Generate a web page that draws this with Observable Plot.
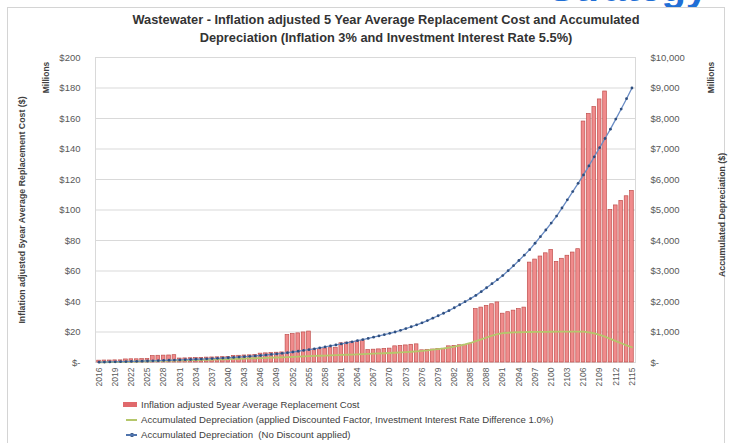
<!DOCTYPE html>
<html>
<head>
<meta charset="utf-8">
<script src="https://cdn.jsdelivr.net/npm/d3@7"></script>
<script src="https://cdn.jsdelivr.net/npm/@observablehq/plot@0.6"></script>
<style>
  html, body { margin: 0; padding: 0; background: #fff; }
  body { width: 729px; height: 443px; overflow: hidden; position: relative; font-family: "Liberation Sans", Arial, sans-serif; }
  #banner { position: absolute; left: 548px; top: -35px; font-size: 40px; font-weight: bold; color: #1f6fd6; white-space: nowrap; }
  #frame { position: absolute; left: 7px; top: 7px; width: 718px; height: 450px; border: 1px solid #d4d4d4; box-sizing: border-box; background: #fff; }
  #title { position: absolute; left: 36px; width: 700px; top: 11px; text-align: center; font-size: 12.8px; font-weight: bold; line-height: 18px; color: #333; }
  #chart { position: absolute; left: 0; top: 50px; }
  #legend { position: absolute; left: 123px; top: 397px; font-size: 9.6px; color: #404040; line-height: 15px; }
  .item { display: flex; align-items: center; white-space: nowrap; }
  .sw { display: inline-block; width: 15px; margin-right: 3px; position: relative; height: 9px; }
  .sw.bar::after { content: ""; position: absolute; left: 0; top: 2px; width: 14px; height: 5px; background: #e0696c; }
  .sw.ln::after { content: ""; position: absolute; left: 3px; top: 4px; width: 11px; height: 1.5px; }
  .sw.green::after { background: #b5c76b; }
  .sw.blue::after { background: #4f74ad; }
  .sw.blue::before { content: ""; position: absolute; left: 7px; top: 3px; width: 3.5px; height: 3.5px; border-radius: 50%; background: #2f4f7f; }
</style>
</head>
<body>
<div id="banner">Strategy</div>
<div id="frame"></div>
<div id="title">Wastewater - Inflation adjusted 5 Year Average Replacement Cost and Accumulated<br>Depreciation (Inflation 3% and Investment Interest Rate 5.5%)</div>
<div id="chart"></div>
<div id="legend">
  <div class="item"><span class="sw bar"></span>Inflation adjusted 5year Average Replacement Cost</div>
  <div class="item"><span class="sw ln green"></span>Accumulated Depreciation (applied Discounted Factor, Investment Interest Rate Difference 1.0%)</div>
  <div class="item"><span class="sw ln blue"></span>Accumulated Depreciation&nbsp; (No Discount applied)</div>
</div>
<script>
// Years 2016..2115
const years = d3.range(2016, 2116);

// Inflation adjusted 5-year average replacement cost ($ millions, left axis)
const replacementCost = [
  1.2, 1.3, 1.3, 1.4, 1.4,
  2.0, 2.1, 2.1, 2.2, 2.3,
  4.2, 4.4, 4.5, 4.6, 4.8,
  2.6, 2.7, 2.8, 2.9, 3.0,
  3.2, 3.3, 3.4, 3.5, 3.6,
  4.3, 4.4, 4.6, 4.7, 4.9,
  5.8, 6.0, 6.2, 6.4, 6.6,
  18.0, 18.6, 19.1, 19.7, 20.3,
  8.6, 8.9, 9.2, 9.4, 9.7,
  12.6, 13.0, 13.4, 13.8, 14.2,
  8.1, 8.4, 8.6, 8.9, 9.1,
  10.6, 10.9, 11.2, 11.6, 11.9,
  8.0, 8.3, 8.5, 8.8, 9.0,
  10.6, 10.9, 11.3, 11.6, 12.0,
  35.0, 36.0, 37.1, 38.2, 39.4,
  32.0, 33.0, 34.0, 35.0, 36.0,
  65.5, 67.5, 69.5, 71.6, 73.8,
  66.0, 68.0, 70.0, 72.1, 74.3,
  158.0, 163.0, 167.5, 172.5, 177.7,
  100.0, 103.0, 106.0, 109.0, 112.5
];

// Accumulated depreciation, discounted ($ millions, right axis)
const depDiscounted = [
  5, 9, 13, 17, 21,
  25, 29, 33, 37, 41,
  46, 51, 56, 61, 66,
  70, 74, 78, 82, 86,
  90, 95, 100, 105, 110,
  116, 122, 128, 134, 140,
  146, 152, 158, 164, 170,
  178, 186, 194, 202, 210,
  216, 222, 228, 234, 240,
  247, 254, 261, 268, 275,
  283, 290, 297, 304, 311,
  320, 330, 340, 352, 365,
  380, 400, 420, 440, 462,
  490, 520, 555, 595, 640,
  700, 760, 820, 880, 930,
  960, 975, 985, 992, 997,
  1000, 1003, 1005, 1007, 1008,
  1010, 1012, 1013, 1014, 1014,
  1010, 990, 955, 905, 845,
  775, 700, 630, 560, 500
];

// Accumulated depreciation, no discount ($ millions, right axis)
const depNoDiscount = [
  10, 14, 18, 22, 26,
  30, 35, 40, 45, 50,
  55, 61, 67, 73, 79,
  85, 92, 99, 106, 113,
  120, 128, 137, 146, 155,
  165, 177, 190, 203, 216,
  230, 246, 264, 282, 300,
  320, 344, 369, 395, 422,
  450, 480, 511, 543, 576,
  610, 644, 679, 715, 752,
  790, 830, 870, 912, 955,
  1000, 1055, 1112, 1172, 1235,
  1300, 1375, 1452, 1532, 1615,
  1700, 1795, 1893, 1993, 2095,
  2200, 2323, 2451, 2583, 2715,
  2850, 3010, 3175, 3345, 3520,
  3700, 3910, 4125, 4345, 4570,
  4800, 5065, 5335, 5605, 5875,
  6150, 6445, 6745, 7045, 7345,
  7650, 7980, 8310, 8650, 9000
];

const leftTicks = [0, 20, 40, 60, 80, 100, 120, 140, 160, 180, 200];
const rightTicks = [0, 1000, 2000, 3000, 4000, 5000, 6000, 7000, 8000, 9000, 10000];
const xTickYears = years.filter((d, i) => i % 3 === 0);

const leftMax = 200, rightMax = 10000;
const ratio = rightMax / leftMax;

const data = years.map((year, i) => ({
  year,
  cost: replacementCost[i],
  disc: depDiscounted[i] / ratio,
  nodisc: depNoDiscount[i] / ratio
}));

const fmtComma = d3.format(",");
const tickFont = "Liberation Sans, Arial, sans-serif";

const chart = Plot.plot({
  width: 729,
  height: 350,
  marginLeft: 95,
  marginRight: 94,
  marginTop: 7,
  marginBottom: 38,
  style: { fontFamily: tickFont, color: "#595959", background: "transparent", overflow: "visible" },
  x: { type: "band", domain: years, padding: 0.32, axis: null },
  y: { domain: [0, leftMax], axis: null },
  marks: [
    Plot.gridY(leftTicks, { stroke: "#d9d9d9", strokeOpacity: 1 }),
    Plot.frame({ stroke: "#d9d9d9" }),
    Plot.barY(data, { x: "year", y: "cost", fill: "#f08b8c", stroke: "#c0504d", strokeWidth: 0.7 }),
    Plot.line(data, { x: "year", y: "disc", stroke: "#b5c76b", strokeWidth: 1.8 }),
    Plot.line(data, { x: "year", y: "nodisc", stroke: "#6a8cc4", strokeWidth: 1.3 }),
    Plot.dot(data, { x: "year", y: "nodisc", r: 1.4, fill: "#2f4f7f", stroke: "none" }),
    Plot.axisY(leftTicks, {
      anchor: "left", tickSize: 0, tickPadding: 15, fontSize: 9.5, label: null,
      tickFormat: d => d === 0 ? "$-" : "$" + d
    }),
    Plot.axisY(rightTicks.map(d => d / ratio), {
      anchor: "right", tickSize: 0, tickPadding: 15, fontSize: 9.5, label: null,
      tickFormat: d => d === 0 ? "$-" : "$" + fmtComma(d * ratio)
    }),
    Plot.axisX(xTickYears, {
      tickSize: 0, tickPadding: 5, tickRotate: -90, fontSize: 8.5, label: null,
      tickFormat: d => String(d)
    }),
    Plot.text(["Inflation adjusted 5year Average Replacement Cost ($)"], {
      frameAnchor: "left", textAnchor: "middle", dx: -73, rotate: -90, fontSize: 8.8, fontWeight: "bold", fill: "#404040"
    }),
    Plot.text(["Millions"], {
      frameAnchor: "top-left", textAnchor: "middle", dx: -53, dy: 20, rotate: -90, fontSize: 8.5, fontWeight: "bold", fill: "#404040"
    }),
    Plot.text(["Accumulated Depreciation ($)"], {
      frameAnchor: "right", textAnchor: "middle", dx: 87, dy: 5, rotate: -90, fontSize: 8.8, fontWeight: "bold", fill: "#404040"
    }),
    Plot.text(["Millions"], {
      frameAnchor: "top-right", textAnchor: "middle", dx: 72, dy: 20, rotate: -90, fontSize: 8.5, fontWeight: "bold", fill: "#404040"
    })
  ]
});

document.getElementById("chart").appendChild(chart);
</script>
</body>
</html>
